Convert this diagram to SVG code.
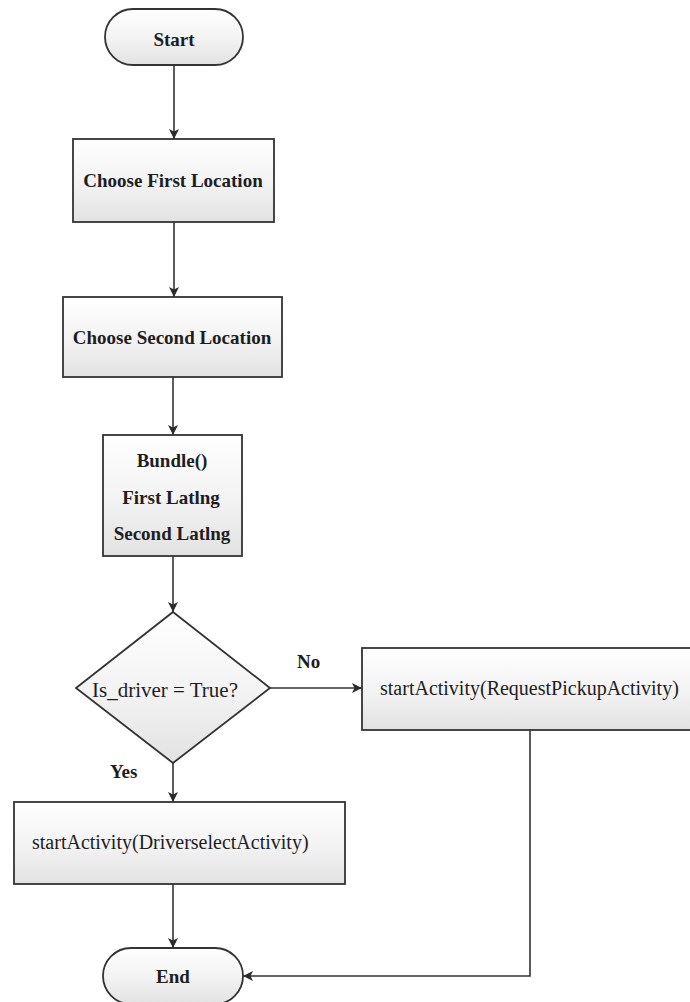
<svg xmlns="http://www.w3.org/2000/svg" width="690" height="1002" viewBox="0 0 690 1002">
  <defs>
    <linearGradient id="fillGrad" x1="0" y1="0" x2="0" y2="1">
      <stop offset="0" stop-color="#ffffff"/>
      <stop offset="0.55" stop-color="#f2f2f2"/>
      <stop offset="1" stop-color="#e2e2e2"/>
    </linearGradient>
    <marker id="arrow" viewBox="0 0 10 10" refX="10" refY="5" markerWidth="10" markerHeight="10" markerUnits="userSpaceOnUse" orient="auto">
      <path d="M0,0 L10,5 L0,10 L2.5,5 Z" fill="#2b2b2b"/>
    </marker>
  </defs>
  <style>
    .shape { fill: url(#fillGrad); stroke: #333333; stroke-width: 1.8; }
    .edge { fill: none; stroke: #333333; stroke-width: 1.6; }
    text { font-family: "Liberation Serif", "Times New Roman", serif; fill: #1e1e1e; }
    .bold { font-weight: bold; font-size: 19px; }
    .plain { font-size: 20px; }
    .mid { text-anchor: middle; }
  </style>
  <rect width="690" height="1002" fill="#ffffff"/>

  <!-- connectors -->
  <g id="connectors">
    <line class="edge" x1="174" y1="65" x2="174" y2="139" marker-end="url(#arrow)"/>
    <line class="edge" x1="174" y1="222" x2="174" y2="297" marker-end="url(#arrow)"/>
    <line class="edge" x1="173" y1="377" x2="173" y2="435" marker-end="url(#arrow)"/>
    <line class="edge" x1="173" y1="556" x2="173" y2="612" marker-end="url(#arrow)"/>
    <line class="edge" x1="269" y1="688" x2="362" y2="688" marker-end="url(#arrow)"/>
    <line class="edge" x1="173" y1="763" x2="173" y2="802" marker-end="url(#arrow)"/>
    <line class="edge" x1="173" y1="884" x2="173" y2="948" marker-end="url(#arrow)"/>
    <polyline class="edge" points="530,730 530,976 243,976" marker-end="url(#arrow)"/>
    <text class="bold" x="297" y="668">No</text>
    <text class="bold" x="110" y="778">Yes</text>
  </g>

  <!-- start terminal -->
  <g id="start">
    <rect class="shape" x="105" y="9" width="138" height="56" rx="28" ry="28"/>
    <text class="bold mid" x="174" y="46">Start</text>
  </g>

  <g id="chooseFirst">
    <rect class="shape" x="73" y="139" width="201" height="83"/>
    <text class="bold mid" x="173" y="187">Choose First Location</text>
  </g>

  <g id="chooseSecond">
    <rect class="shape" x="63" y="297" width="219" height="80"/>
    <text class="bold mid" x="172" y="344">Choose Second Location</text>
  </g>

  <g id="bundle">
    <rect class="shape" x="103" y="435" width="139" height="121"/>
    <text class="bold mid" x="172" y="467">Bundle()</text>
    <text class="bold mid" x="171" y="504">First Latlng</text>
    <text class="bold mid" x="172" y="540">Second Latlng</text>
  </g>

  <g id="isDriver">
    <polygon class="shape" points="173,612 270,688 173,763 76,688"/>
    <text class="plain mid" x="165" y="697" style="font-size:21px">Is_driver = True?</text>
  </g>

  <g id="requestPickup">
    <rect class="shape" x="362" y="648" width="332" height="82"/>
    <text class="plain" x="380" y="695">startActivity(RequestPickupActivity)</text>
  </g>

  <g id="driverSelect">
    <rect class="shape" x="14" y="802" width="331" height="82"/>
    <text class="plain" x="32" y="849">startActivity(DriverselectActivity)</text>
  </g>

  <!-- end terminal -->
  <g id="end">
    <rect class="shape" x="103" y="948" width="140" height="56" rx="28" ry="28"/>
    <text class="bold mid" x="173" y="983">End</text>
  </g>
</svg>
